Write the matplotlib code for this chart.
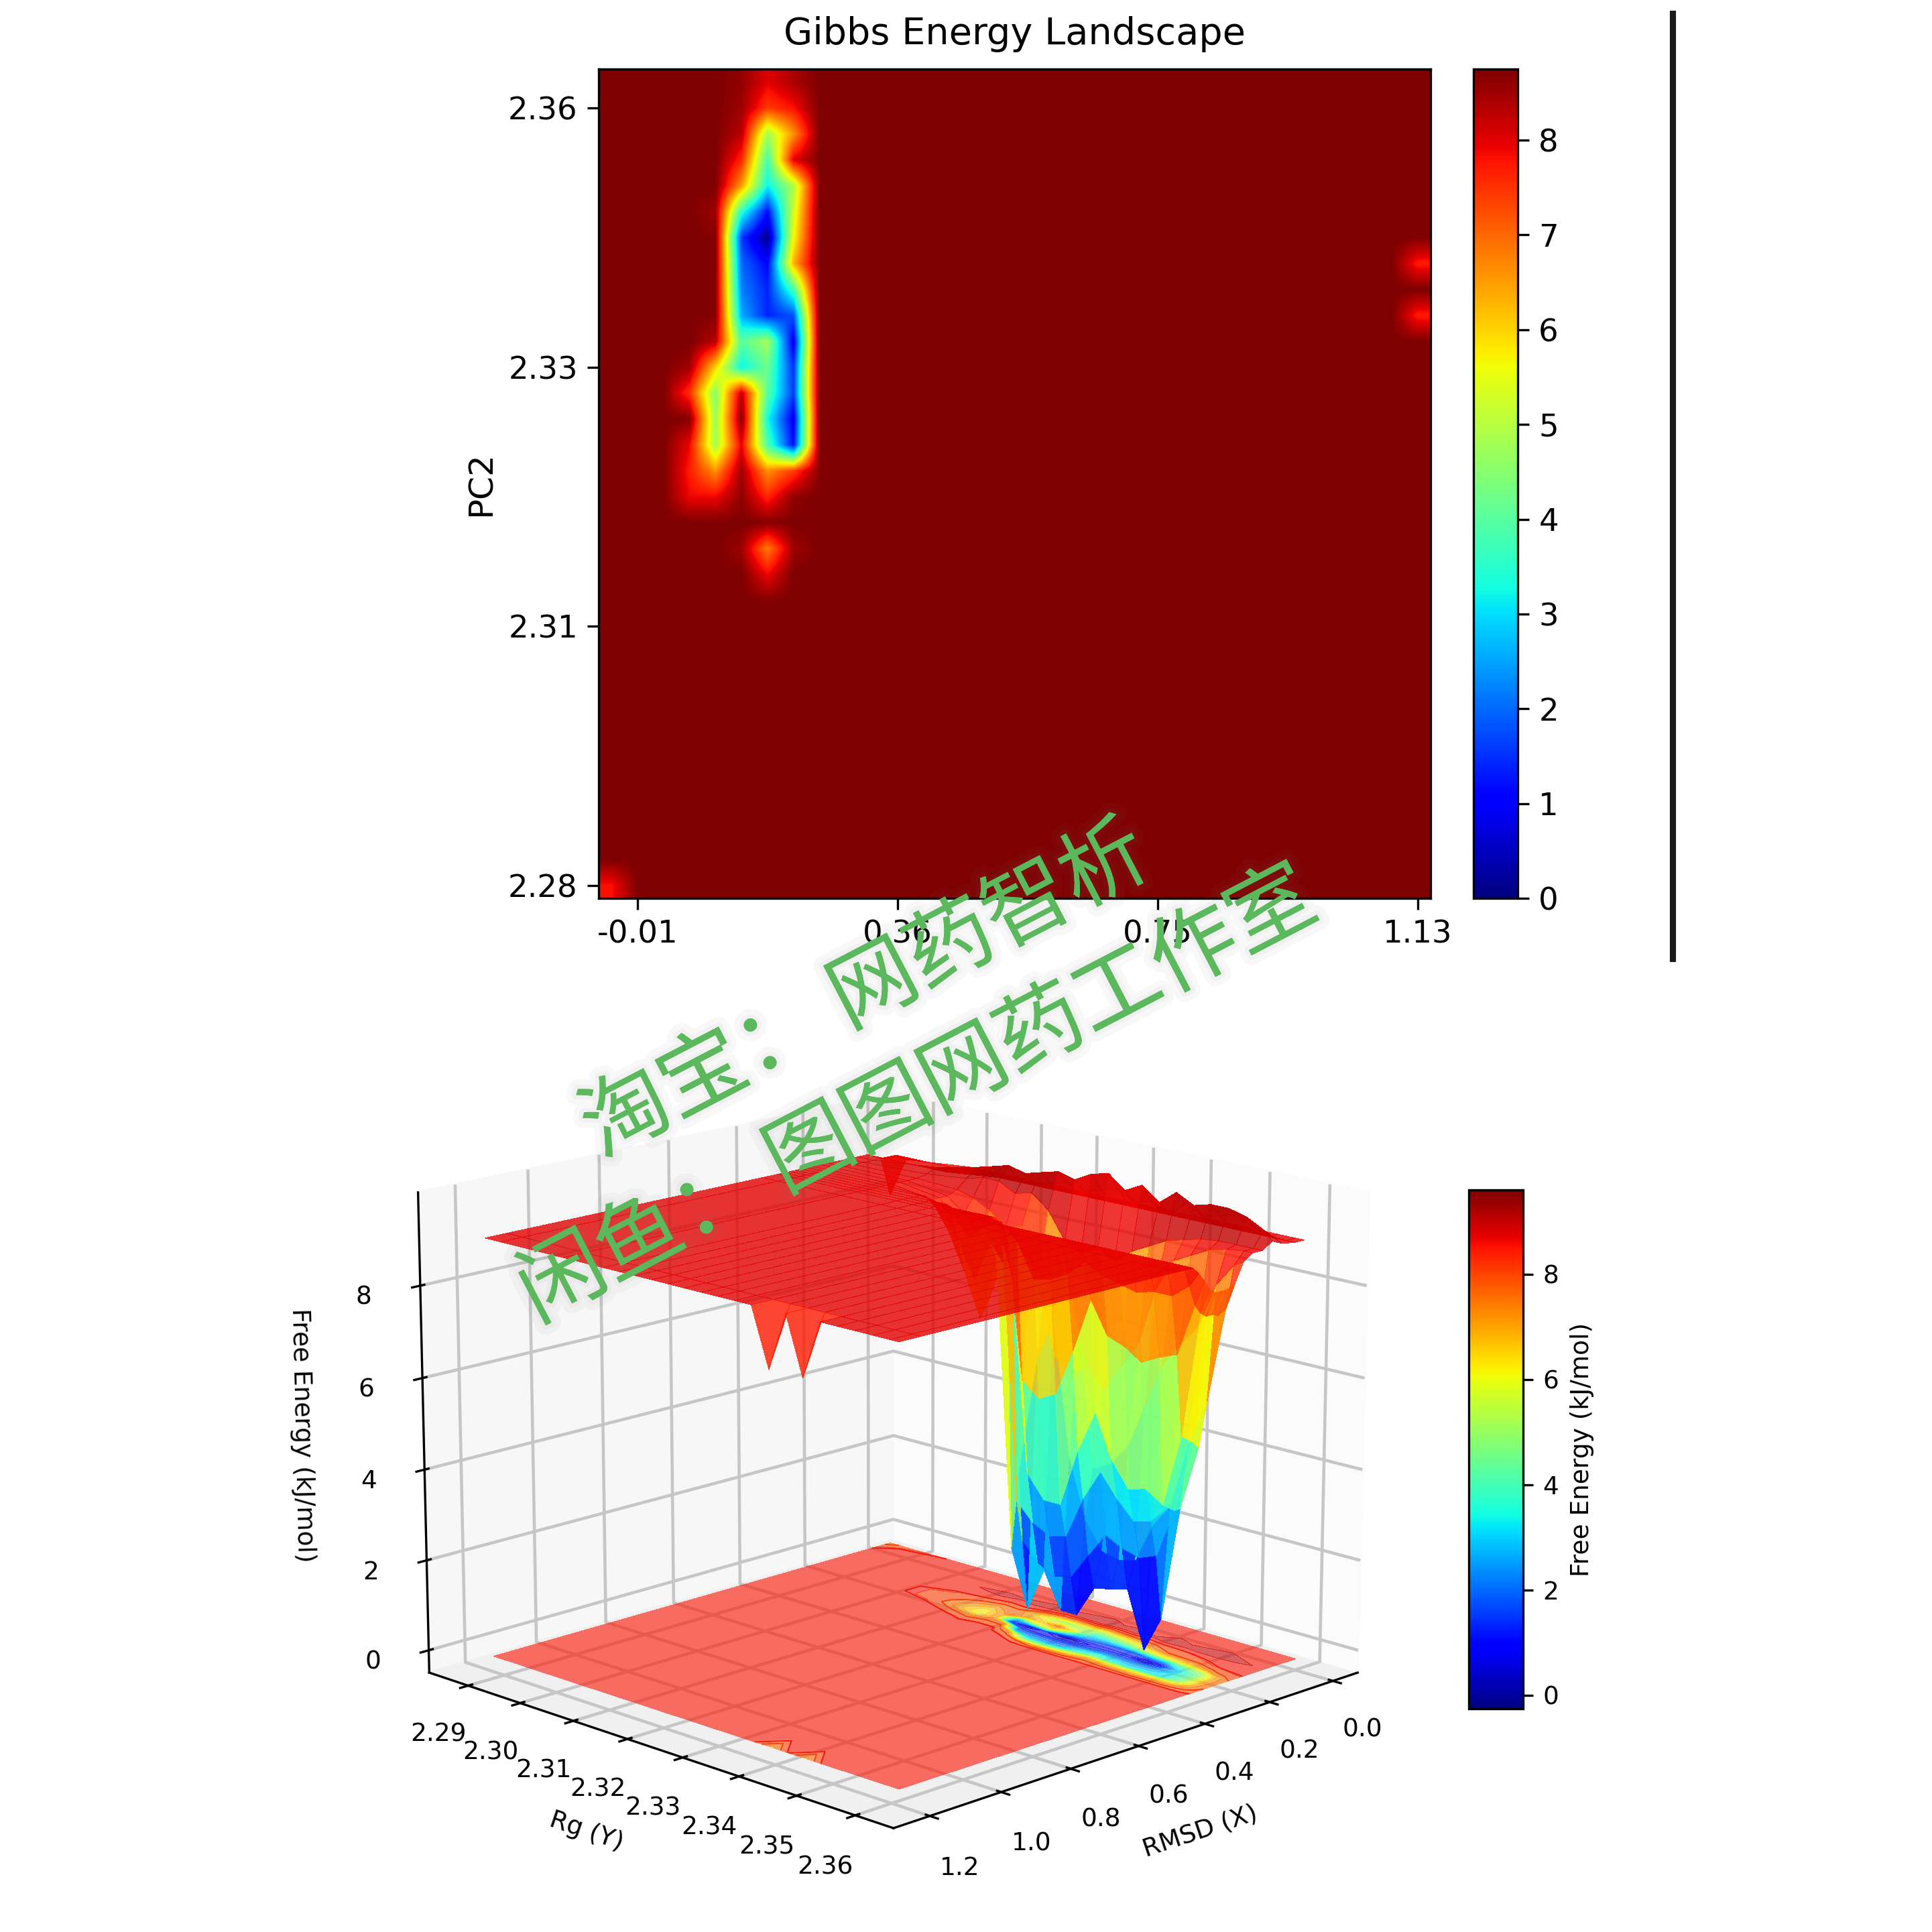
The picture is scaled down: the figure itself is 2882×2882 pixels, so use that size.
import numpy as np
import matplotlib
matplotlib.use("Agg")
import matplotlib.pyplot as plt
import matplotlib.patheffects as pe
from matplotlib.lines import Line2D

# ---------- data: top heat map (32 x 32 bins; sparse cells) ----------
BASE_LEVEL = 8.75
# row index from bottom -> {column index: value}
map_rows = {
    0: {0: 7.8},
    11: {6: 8.7},
    12: {6: 7.9},
    13: {5: 8.5, 6: 6.8, 7: 8.5},
    14: {6: 8.7},
    15: {3: 7.9, 4: 7.9, 5: 8.6, 6: 7.6, 7: 8.6},
    16: {3: 7.7, 4: 6.6, 5: 8.5, 6: 6.6, 7: 7.4, 8: 8.7},
    17: {3: 7.9, 4: 4.8, 5: 8.0, 6: 3.9, 7: 1.2},
    18: {3: 8.7, 4: 4.7, 5: 8.7, 6: 3.3, 7: 0.9},
    19: {3: 7.5, 4: 4.5, 5: 8.3, 6: 4.0, 7: 1.6},
    20: {3: 8.5, 4: 6.0, 5: 3.2, 6: 4.2, 7: 1.5},
    21: {4: 8.3, 5: 4.0, 6: 4.8, 7: 0.9},
    22: {4: 8.7, 5: 2.6, 6: 1.4, 7: 1.8, 31: 7.7},
    23: {4: 8.7, 5: 2.2, 6: 1.4, 7: 3.8},
    24: {4: 8.7, 5: 2.0, 6: 1.1, 7: 6.3, 31: 7.7},
    25: {4: 8.7, 5: 1.6, 6: 0.1, 7: 5.6},
    26: {4: 8.5, 5: 3.5, 6: 1.2, 7: 5.3},
    27: {5: 6.5, 6: 3.2, 7: 4.9, 8: 8.7},
    28: {5: 7.6, 6: 3.8, 7: 8.0},
    29: {5: 8.3, 6: 4.8, 7: 6.6},
    30: {5: 8.5, 6: 7.4, 7: 7.8},
    31: {5: 8.6, 6: 8.0, 7: 8.4},
}
map_xticks = [1, 11, 21, 31]
map_xlabels = ["-0.01", "0.36", "0.75", "1.13"]
map_yticks = [0, 10, 20, 30]
map_ylabels = ["2.28", "2.31", "2.33", "2.36"]
cbar1_ticks = [0, 1, 2, 3, 4, 5, 6, 7, 8]

# ---------- data: 3D surface lattice ----------
rmsd = [-0.060, -0.030, 0.011, 0.041, 0.071, 0.101, 0.130, 0.154, 0.178, 0.196,
        0.214, 0.232, 0.249, 0.267, 0.285, 0.333, 1.070, 1.130]
rg = [2.2830, 2.2860, 2.2978, 2.3052, 2.3082, 2.3111, 2.3141, 2.3170, 2.3200, 2.3230,
      2.3259, 2.3289, 2.3318, 2.3348, 2.3378, 2.3407, 2.3437, 2.3466, 2.3496, 2.3526,
      2.3555, 2.3570]
P = 8.75
energy = [
    [7.7, 8.6, P, P, P, P, P, P, P, P, P, P, P, P, P, P, P, P],
    [8.6, P, P, P, P, P, P, P, P, P, P, P, P, P, P, P, P, P],
    [P, P, P, 8.9, 8.8, P, P, P, P, P, P, P, P, P, P, P, P, P],
    [P, P, 8.85, 9.1, 8.9, 8.7, 8.6, 8.6, 8.6, 8.7, P, P, P, P, P, P, P, P],
    [P, P, 8.9, 9.2, 9.0, 8.6, 8.3, 8.1, 8.0, 8.4, 8.7, P, P, P, P, P, P, P],
    [P, P, 8.95, 9.3, 9.0, 8.4, 7.8, 7.3, 7.2, 7.9, 8.5, P, P, P, P, P, P, P],
    [P, P, 8.9, 9.2, 8.8, 8.1, 7.2, 6.5, 6.2, 7.1, 8.1, 8.6, P, P, P, P, P, P],
    [P, P, 9.0, 9.3, 8.9, 8.2, 8.0, 7.6, 7.6, 8.0, 8.4, 8.7, P, P, P, P, P, P],
    [P, P, 9.1, 9.4, 8.6, 7.0, 7.6, 3.0, 1.2, 7.5, 8.5, 8.7, P, P, P, P, P, P],
    [P, P, 9.0, 9.3, 8.0, 5.5, 7.0, 5.5, -0.1, 1.5, 2.45, 7.5, 8.5, P, P, P, P, P],
    [P, P, 9.1, 9.5, 7.8, 5.2, 8.0, 6.5, 0.9, 1.1, 2.05, 3.2, 5.3, 8.4, P, P, P, P],
    [P, P, 9.2, 9.6, 8.0, 5.4, 6.2, 3.5, 0.1, 0.9, 1.85, 2.7, 5.0, 7.65, P, P, P, P],
    [P, P, 9.0, 9.3, 7.8, 5.0, 3.3, 2.2, 0.1, 1.0, 1.95, 2.7, 5.2, 7.75, P, P, P, P],
    [P, P, 9.1, 9.5, 8.1, 5.6, 3.5, 1.6, 0.8, 1.6, 2.9, 4.0, 6.25, 7.95, P, P, P, 7.5],
    [P, P, 8.9, 9.2, 8.3, 6.2, 4.0, 1.5, 0.9, 2.15, 3.6, 4.95, 7.45, 8.3, P, P, P, P],
    [P, P, 9.2, 9.5, 8.5, 7.5, 5.0, 1.6, 1.0, 1.95, 3.1, 4.0, 6.75, 8.1, P, P, P, 7.5],
    [P, P, 9.0, 9.3, 8.6, 8.2, 6.0, 2.5, -0.26, 1.85, 2.7, 3.45, 6.6, 8.0, P, P, P, P],
    [P, P, 9.1, 9.4, 8.7, 8.4, 6.5, 3.0, 0.55, 2.0, 2.8, 3.55, 6.35, 7.9, P, P, P, P],
    [P, P, 9.2, 9.4, P, 8.6, 7.0, 4.5, 3.1, 3.1, 3.2, 3.3, 6.55, 8.0, P, P, P, P],
    [P, P, 9.0, 9.3, P, 8.7, 8.0, 5.5, 4.55, 4.7, 4.8, 4.9, 6.7, 8.0, P, P, P, P],
    [P, P, 8.9, 9.1, P, P, 8.5, 7.6, 7.5, 7.55, 7.55, 7.65, 7.85, 8.3, P, P, P, P],
    [P, P, 8.8, 8.9, P, P, 8.6, 8.2, 8.1, 8.1, 8.1, 8.2, 8.4, 8.6, P, P, P, P],
]
z3_ticks = [0, 2, 4, 6, 8]
x3_ticks = [0.0, 0.2, 0.4, 0.6, 0.8, 1.0, 1.2]
y3_ticks = [2.29, 2.30, 2.31, 2.32, 2.33, 2.34, 2.35, 2.36]

wm_line1 = "淘宝： 网药智析"
wm_line2 = "闲鱼： 图图网药工作室"

# ---------- figure ----------
W = 2882
fig = plt.figure(figsize=(W / 300, W / 300), dpi=300)


def box(x0, y0, x1, y1):
    return [x0 / W, 1 - y1 / W, (x1 - x0) / W, (y1 - y0) / W]


# heat map
grid = np.full((32, 32), BASE_LEVEL)
for r, cells in map_rows.items():
    for c, v in cells.items():
        grid[r, c] = v

ax = fig.add_axes(box(893, 103, 2134, 1340), zorder=3)
im = ax.imshow(grid, origin="lower", cmap="jet", vmin=0, vmax=8.75,
               interpolation="bilinear", aspect="auto")
ax.set_xticks(map_xticks, map_xlabels)
ax.set_yticks(map_yticks, map_ylabels)
ax.tick_params(labelsize=11.2, length=4)
ax.set_ylabel("PC2", fontsize=12)
ax.set_title("Gibbs Energy Landscape", fontsize=13.4, pad=9)
cax = fig.add_axes(box(2198, 103, 2264, 1340), zorder=3)
fig.colorbar(im, cax=cax, ticks=cbar1_ticks)
cax.tick_params(labelsize=11.2, length=4)

# separator line
fig.add_artist(Line2D([2495 / W, 2495 / W], [1 - 20 / W, 1 - 1430 / W],
                      color="#1a1a1a", lw=2.2, transform=fig.transFigure))

# 3D
ax3 = fig.add_axes(box(542, 1392, 2082, 2932), projection="3d", zorder=1)
ax3.patch.set_alpha(0)
X, Y = np.meshgrid(rmsd, rg)
Z = np.array(energy)
ZMIN, ZMAX = -0.26, 9.6
ZFLOOR = -0.5
surf = ax3.plot_surface(X, Y, Z, cmap="jet", vmin=ZMIN, vmax=ZMAX, rstride=1, cstride=1,
                        linewidth=0, antialiased=False, alpha=0.8)
ax3.contourf(X, Y, Z, zdir="z", offset=ZFLOOR, levels=np.linspace(ZMIN, ZMAX, 22),
             cmap="jet", vmin=ZMIN, vmax=10.04, alpha=0.6, extend="min")
ax3.contour(X, Y, Z, zdir="z", offset=ZFLOOR, levels=[8.2, 8.7], colors="#d01515", linewidths=0.4)
ax3.view_init(elev=15.5, azim=45)
ax3.set_xlim(-0.08, 1.30)
ax3.set_ylim(2.2824, 2.3664)
ax3.set_zlim(ZFLOOR, 10)
ax3.set_xticks(x3_ticks)
ax3.set_yticks(y3_ticks)
ax3.set_zticks(z3_ticks)
ax3.tick_params(labelsize=9)
ax3.set_xlabel("RMSD (X)", fontsize=9)
ax3.set_ylabel("Rg (Y)", fontsize=9)
ax3.set_zlabel("Free Energy (kJ/mol)", fontsize=9)
for axis, shade in ((ax3.xaxis, 0.985), (ax3.yaxis, 0.97), (ax3.zaxis, 0.94)):
    axis.set_pane_color((shade, shade, shade, 1))
    axis._axinfo["grid"].update(color="#c6c6c6", linewidth=1.1)

cax3 = fig.add_axes(box(2191, 1775, 2272, 2549), zorder=3)
cb = fig.colorbar(surf, cax=cax3, ticks=z3_ticks)
cb.solids.set_alpha(1)
cb.ax.tick_params(labelsize=9)
cb.set_label("Free Energy (kJ/mol)", fontsize=9)

# watermark
for txt, cx, cy in ((wm_line1, 1292, 1480), (wm_line2, 1369, 1636)):
    fig.text(cx / W, 1 - cy / W, txt, color="#5cb85c", fontsize=31, rotation=27.5,
             ha="center", va="center", rotation_mode="anchor",
             family=["Noto Sans CJK SC", "DejaVu Sans"], zorder=20,
             path_effects=[pe.withStroke(linewidth=7, foreground="#808080", alpha=0.05),
                           pe.withStroke(linewidth=3, foreground="#808080", alpha=0.05)])

fig.savefig("out.png", dpi=300)
